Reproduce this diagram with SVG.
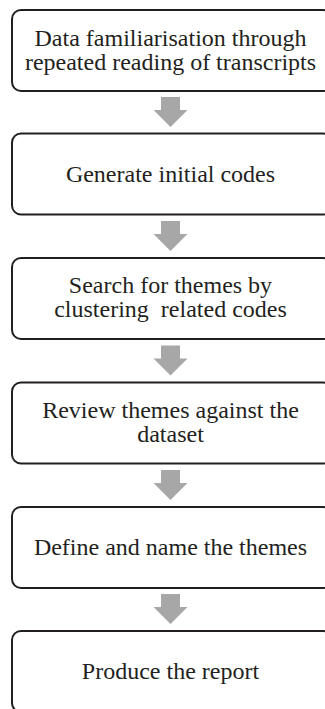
<svg xmlns="http://www.w3.org/2000/svg" width="325" height="709" viewBox="0 0 325 709">
  <style>
    .box { fill: #ffffff; stroke: #231f20; stroke-width: 2; }
    .lbl { font-family: "Liberation Serif", "Times New Roman", serif; font-size: 24px; fill: #231f20; text-anchor: middle; }
    .arrow { fill: #a7a7a7; }
  </style>
  <defs>
    <!-- block arrow pointing down, tip at origin -->
    <path id="down" d="M -9.5 -30 H 9.5 V -17 H 17 L 0 0 L -17 -17 H -9.5 Z"/>
  </defs>
  <rect width="325" height="709" fill="#ffffff"/>

  <g id="connectors" class="arrow">
    <use href="#down" x="170.5" y="127"/>
    <use href="#down" x="170.5" y="251"/>
    <use href="#down" x="170.5" y="375.5"/>
    <use href="#down" x="170.5" y="500"/>
    <use href="#down" x="170.5" y="624"/>
  </g>

  <g id="step1">
    <rect class="box" x="12" y="10" width="320" height="81" rx="9"/>
    <text class="lbl" x="170.5" y="46">Data familiarisation through</text>
    <text class="lbl" x="170.5" y="70">repeated reading of transcripts</text>
  </g>
  <g id="step2">
    <rect class="box" x="12" y="133.5" width="320" height="81" rx="9"/>
    <text class="lbl" x="170.5" y="182">Generate initial codes</text>
  </g>
  <g id="step3">
    <rect class="box" x="12" y="258" width="320" height="81" rx="9"/>
    <text class="lbl" x="170.5" y="293" xml:space="preserve">Search for themes by</text>
    <text class="lbl" x="170.5" y="317" xml:space="preserve">clustering  related codes</text>
  </g>
  <g id="step4">
    <rect class="box" x="12" y="382.5" width="320" height="81" rx="9"/>
    <text class="lbl" x="170.5" y="418">Review themes against the</text>
    <text class="lbl" x="170.5" y="442">dataset</text>
  </g>
  <g id="step5">
    <rect class="box" x="12" y="507" width="320" height="81" rx="9"/>
    <text class="lbl" x="170.5" y="555">Define and name the themes</text>
  </g>
  <g id="step6">
    <rect class="box" x="12" y="631" width="320" height="81" rx="9"/>
    <text class="lbl" x="170.5" y="679">Produce the report</text>
  </g>
</svg>
